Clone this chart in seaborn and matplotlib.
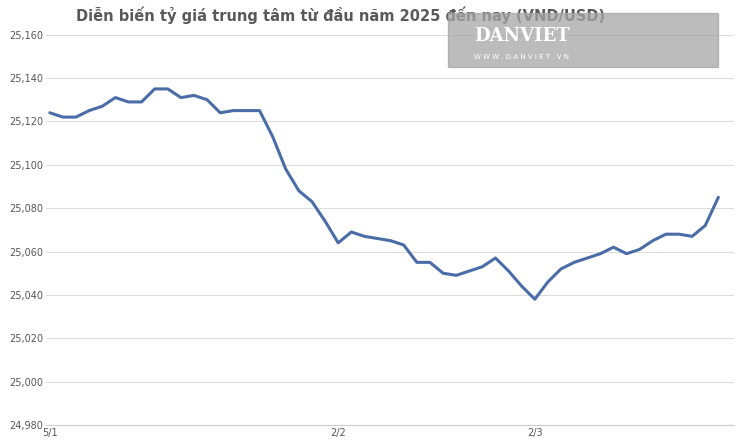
import matplotlib
matplotlib.use("Agg")
import matplotlib.pyplot as plt
import matplotlib.patches as mpatches
import seaborn as sns
import pandas as pd

# ty gia trung tam theo ngay (doc tu hinh)
rates = [25124, 25122, 25122, 25125, 25127, 25131, 25129, 25129, 25135, 25135,
         25131, 25132, 25130, 25124, 25125, 25125, 25125, 25113, 25098, 25088,
         25083, 25074, 25064, 25069, 25067, 25066, 25065, 25063, 25055, 25055,
         25050, 25049, 25051, 25053, 25057, 25051, 25044, 25038, 25046, 25052,
         25055, 25057, 25059, 25062, 25059, 25061, 25065, 25068, 25068, 25067,
         25072, 25085]
tick_pos = [0, 22, 37]
tick_labels = ["5/1", "2/2", "2/3"]
y_ticks = list(range(24980, 25161, 20))

df = pd.DataFrame({"idx": range(len(rates)), "rate": rates})

sns.set_style("white")
fig = plt.figure(figsize=(7.4, 4.45), dpi=100)
ax = fig.add_axes([0.062, 0.045, 0.93, 0.877])

sns.lineplot(data=df, x="idx", y="rate", ax=ax, color="#4a6da7", linewidth=2.2)

ax.set_ylim(24980, 25160)
ax.set_xlim(-0.3, len(rates) + 0.2)
ax.set_yticks(y_ticks)
ax.set_yticklabels([f"{v:,}" for v in y_ticks], fontsize=7, color="#555555")
ax.set_xticks(tick_pos)
ax.set_xticklabels(tick_labels, fontsize=7, color="#555555")
ax.tick_params(length=0, pad=2)
ax.grid(axis="y", color="#dddddd", linewidth=0.8)
ax.set_xlabel("")
ax.set_ylabel("")
for s in ax.spines.values():
    s.set_visible(False)
ax.spines["bottom"].set_visible(True)
ax.spines["bottom"].set_color("#cccccc")

fig.text(0.46, 0.965, "Diễn biến tỷ giá trung tâm từ đầu năm 2025 đến nay (VND/USD)",
         ha="center", va="center", fontsize=10.5, fontweight="bold", color="#595959")

# watermark
fig.patches.append(mpatches.Rectangle((0.605, 0.85), 0.365, 0.12, transform=fig.transFigure,
                                      color="#a6a6a6", alpha=0.75, zorder=5))
fig.text(0.705, 0.918, "DANVIET", fontsize=13, fontweight="bold", color="white",
         family="DejaVu Serif", ha="center", va="center", zorder=6)
fig.text(0.705, 0.872, "W W W . D A N V I E T . V N", fontsize=5, color="white",
         ha="center", va="center", zorder=6)

fig.savefig("out.png", dpi=100)
